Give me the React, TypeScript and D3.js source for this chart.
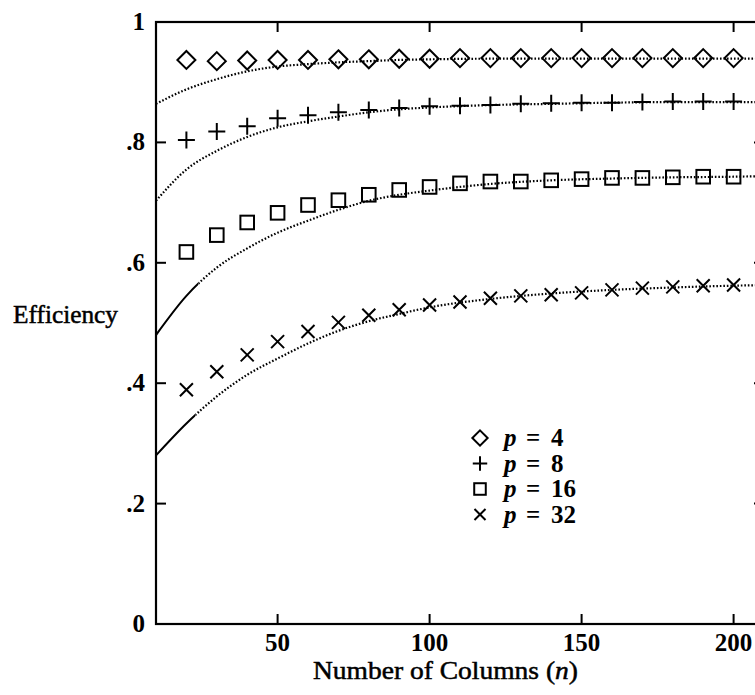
import * as d3 from 'd3'

// column counts of the measured points
const markerN = [20, 30, 40, 50, 60, 70, 80, 90, 100, 110, 120, 130, 140, 150, 160, 170, 180, 190, 200]

// measured efficiency, one list per processor count
const effP4 = [0.937, 0.935, 0.936, 0.937, 0.937, 0.938, 0.938, 0.939, 0.939, 0.940, 0.940, 0.940, 0.940, 0.940, 0.940, 0.940, 0.940, 0.940, 0.940]
const effP8 = [0.804, 0.818, 0.827, 0.840, 0.845, 0.850, 0.854, 0.857, 0.860, 0.861, 0.862, 0.864, 0.865, 0.866, 0.866, 0.867, 0.868, 0.868, 0.868]
const effP16 = [0.618, 0.646, 0.667, 0.683, 0.696, 0.704, 0.713, 0.721, 0.726, 0.732, 0.735, 0.735, 0.737, 0.739, 0.741, 0.741, 0.742, 0.743, 0.743]
const effP32 = [0.389, 0.419, 0.447, 0.469, 0.486, 0.501, 0.513, 0.522, 0.530, 0.535, 0.541, 0.545, 0.547, 0.550, 0.555, 0.558, 0.560, 0.562, 0.563]

// model curves (dotted)
const curveN = [10, 20, 30, 40, 50, 60, 70, 80, 90, 100, 120, 140, 160, 180, 200, 210]
const modelP4 = [0.864, 0.888, 0.905, 0.918, 0.926, 0.930, 0.933, 0.935, 0.937, 0.938, 0.939, 0.939, 0.939, 0.939, 0.939, 0.939]
const modelP8 = [0.703, 0.755, 0.786, 0.809, 0.825, 0.835, 0.843, 0.850, 0.855, 0.858, 0.862, 0.864, 0.866, 0.867, 0.867, 0.867]
const modelP16 = [0.480, 0.545, 0.592, 0.624, 0.650, 0.670, 0.688, 0.703, 0.713, 0.720, 0.731, 0.737, 0.740, 0.742, 0.743, 0.744]
const modelP32 = [0.280, 0.333, 0.378, 0.414, 0.441, 0.466, 0.487, 0.503, 0.515, 0.526, 0.540, 0.549, 0.555, 0.559, 0.562, 0.563]

const xTicks = [50, 100, 150, 200]
const yTicks = [0, 0.2, 0.4, 0.6, 0.8, 1]
const yTickLabels = ['0', '.2', '.4', '.6', '.8', '1']
const seriesLabels = ['4', '8', '16', '32']
const seriesSymbols = ['diamond', 'plus', 'square', 'cross']
const solidUntil = [10, 10, 24, 23]

const W = 755
const H = 695
const font = "'Liberation Serif', 'Times New Roman', serif"

function marker(kind: string, cx: number, cy: number, s = 1) {
  const st = { fill: 'none', stroke: '#000', strokeWidth: 2 }
  if (kind === 'diamond') {
    const r = 9 * s
    return <path d={`M${cx},${cy - r}L${cx + r},${cy}L${cx},${cy + r}L${cx - r},${cy}Z`} {...st} />
  }
  if (kind === 'plus') {
    const r = 8.5 * s
    return <path d={`M${cx - r},${cy}H${cx + r}M${cx},${cy - r}V${cy + r}`} {...st} />
  }
  if (kind === 'square') {
    const r = 6.8 * s
    return <rect x={cx - r} y={cy - r} width={2 * r} height={2 * r} {...st} />
  }
  const r = 6.5 * s
  return <path d={`M${cx - r},${cy - r}L${cx + r},${cy + r}M${cx - r},${cy + r}L${cx + r},${cy - r}`} {...st} />
}

export default function App() {
  const x = d3.scaleLinear().domain([10, 210]).range([156, 764])
  const y = d3.scaleLinear().domain([0, 1]).range([624, 22])
  const line = d3.line<number>()
    .x((d, i) => x(curveN[i]))
    .y(d => y(d))
    .curve(d3.curveMonotoneX)

  const measured = [effP4, effP8, effP16, effP32]
  const models = [modelP4, modelP8, modelP16, modelP32]
  const [x0, x1] = x.range()
  const [yb, yt] = y.range()
  // plain serif, thickened a little like the scanned print
  const ink = { stroke: '#000', strokeWidth: 0.5 }

  return (
    <div>
      <style>{'body{margin:0}'}</style>
      <svg width={W} height={H} style={{ display: 'block', background: '#fff', fontFamily: font }}>
        <defs>
          {models.map((m, i) => (
            <g key={i}>
              <clipPath id={`solid${i}`}>
                <rect x={x0} y={0} width={x(solidUntil[i]) - x0} height={H} />
              </clipPath>
              <clipPath id={`dot${i}`}>
                <rect x={x(solidUntil[i])} y={0} width={W} height={H} />
              </clipPath>
            </g>
          ))}
        </defs>

        {/* model curves */}
        {models.map((m, i) => (
          <g key={i} fill="none" stroke="#000">
            <path d={line(m) || ''} strokeWidth={2.2} strokeDasharray="1.6 1.9" clipPath={`url(#dot${i})`} />
            <path d={line(m) || ''} strokeWidth={2} clipPath={`url(#solid${i})`} />
          </g>
        ))}

        {/* measured points */}
        {measured.map((s, i) => (
          <g key={i}>
            {s.map((v, j) => <g key={j}>{marker(seriesSymbols[i], x(markerN[j]), y(v))}</g>)}
          </g>
        ))}

        {/* frame */}
        <rect x={x0} y={yt} width={x1 - x0} height={yb - yt} fill="none" stroke="#000" strokeWidth={2.2} />
        {xTicks.map(t => (
          <g key={t} stroke="#000" strokeWidth={2}>
            <line x1={x(t)} x2={x(t)} y1={yb} y2={yb - 10} />
            <line x1={x(t)} x2={x(t)} y1={yt} y2={yt + 10} />
          </g>
        ))}
        {yTicks.slice(1, 5).map(t => (
          <g key={t} stroke="#000" strokeWidth={2}>
            <line x1={x0} x2={x0 + 10} y1={y(t)} y2={y(t)} />
            <line x1={x1} x2={x1 - 10} y1={y(t)} y2={y(t)} />
          </g>
        ))}

        {/* tick labels */}
        {xTicks.map(t => (
          <text key={t} x={x(t)} y={651} textAnchor="middle" fontSize={25} fontWeight="bold">{t}</text>
        ))}
        {yTicks.map((t, i) => (
          <text key={t} x={145} y={y(t) + 8} textAnchor="end" fontSize={25} fontWeight="bold">{yTickLabels[i]}</text>
        ))}

        {/* axis titles */}
        <text x={13} y={323} fontSize={25} textLength={105} lengthAdjust="spacingAndGlyphs" {...ink}>Efficiency</text>
        <text x={313} y={679} fontSize={25} textLength={265} lengthAdjust="spacingAndGlyphs" {...ink}>
          Number of Columns (<tspan fontStyle="italic">n</tspan>)
        </text>

        {/* legend */}
        {seriesLabels.map((lab, i) => {
          const ly = 438 + i * 25.5
          return (
            <g key={lab}>
              {marker(seriesSymbols[i], 480, ly, 0.85)}
              <text y={ly + 8} fontSize={25} fontWeight="bold">
                <tspan x={504} fontStyle="italic">p</tspan>
                <tspan x={526}>=</tspan>
                <tspan x={551}>{lab}</tspan>
              </text>
            </g>
          )
        })}
      </svg>
    </div>
  )
}
